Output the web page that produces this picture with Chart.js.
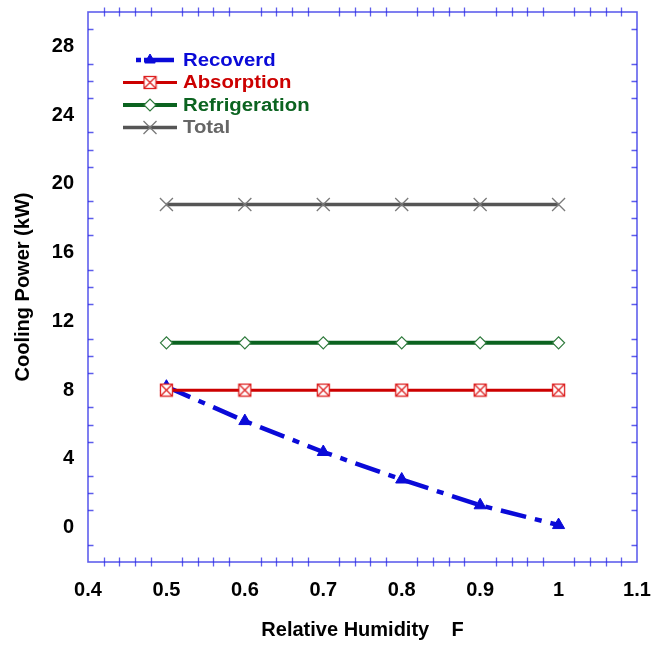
<!DOCTYPE html>
<html>
<head>
<meta charset="utf-8">
<script src="https://cdn.jsdelivr.net/npm/chart.js@4.4.1/dist/chart.umd.min.js"></script>
<style>
html,body{margin:0;padding:0;background:#fff;}
#wrap{width:651px;height:646px;}
</style>
</head>
<body>
<div id="wrap"><canvas id="c" width="651" height="646"></canvas></div>
<script>
// ---- data ----
const humidity = [0.5, 0.6, 0.7, 0.8, 0.9, 1.0];
const recoverd = [8.2, 6.2, 4.4, 2.8, 1.3, 0.15];
const absorption = [8, 8, 8, 8, 8, 8];
const refrigeration = [10.75, 10.75, 10.75, 10.75, 10.75, 10.75];
const total = [18.8, 18.8, 18.8, 18.8, 18.8, 18.8];
const seriesNames = ['Recoverd', 'Absorption', 'Refrigeration', 'Total'];
const xRange = [0.4, 1.1];
const yRange = [-2, 30];
const xLabelTicks = [0.4, 0.5, 0.6, 0.7, 0.8, 0.9, 1, 1.1];
const yLabelTicks = [0, 4, 8, 12, 16, 20, 24, 28];

const FONT = '"Liberation Sans", Arial, Helvetica, sans-serif';
const AXIS_COLOR = 'rgba(40,40,230,0.75)';

// boxed X marker image
function boxedX(size, color) {
  const c = document.createElement('canvas');
  c.width = size + 2; c.height = size + 2;
  const g = c.getContext('2d');
  g.fillStyle = '#fff';
  g.fillRect(1, 1, size, size);
  g.strokeStyle = color; g.lineWidth = 1.3;
  g.strokeRect(1.5, 1.5, size - 1, size - 1);
  g.beginPath();
  g.moveTo(1.5, 1.5); g.lineTo(size + 0.5, size + 0.5);
  g.moveTo(size + 0.5, 1.5); g.lineTo(1.5, size + 0.5);
  g.stroke();
  return c;
}
const boxImg = boxedX(13, '#dd2020');

function pts(arr) { return humidity.map((x, i) => ({x: x, y: arr[i]})); }

const datasets = [
  {label: seriesNames[0], data: pts(recoverd), borderColor: '#0a0ad8', backgroundColor: '#0a0ad8',
   borderWidth: 4.5, borderDash: [26, 9, 7, 9], pointStyle: 'triangle', pointRadius: 7,
   pointBorderWidth: 1, pointBorderColor: '#0a0ad8', pointBackgroundColor: '#0a0ad8', order: 10, tension: 0},
  {label: seriesNames[1], data: pts(absorption), borderColor: '#cc0000', backgroundColor: '#cc0000',
   borderWidth: 3, pointStyle: boxImg, pointRadius: 7, pointBorderColor: '#dd2020',
   pointBackgroundColor: '#ffffff', order: 3},
  {label: seriesNames[2], data: pts(refrigeration), borderColor: '#0b6320', backgroundColor: '#ffffff',
   borderWidth: 4, pointStyle: 'rectRot', pointRadius: 6, pointBorderWidth: 1.2,
   pointBorderColor: '#2e7a3c', pointBackgroundColor: '#ffffff', order: 2},
  {label: seriesNames[3], data: pts(total), borderColor: '#555555', backgroundColor: '#777777',
   borderWidth: 3.5, pointStyle: 'crossRot', pointRadius: 9.2, pointBorderWidth: 1.3,
   pointBorderColor: '#7a7a7a', pointBackgroundColor: '#7a7a7a', order: 1}
];

// frame + minor ticks + legend plugin
const framePlugin = {
  id: 'frame',
  afterDraw(chart) {
    const ctx = chart.ctx;
    const xs = chart.scales.x, ys = chart.scales.y;
    const a = chart.chartArea;
    ctx.save();
    ctx.strokeStyle = AXIS_COLOR;
    ctx.lineWidth = 1.6;
    ctx.strokeRect(a.left, a.top, a.right - a.left, a.bottom - a.top);
    ctx.lineWidth = 1.3;
    ctx.beginPath();
    // x minor ticks (cross top & bottom lines)
    for (let i = 1; i < 35; i++) {
      if (i % 5 === 0) continue;
      const v = xRange[0] + i * 0.02;
      const px = Math.round(xs.getPixelForValue(v)) + 0.5;
      ctx.moveTo(px, a.top - 4.5); ctx.lineTo(px, a.top + 4.5);
      ctx.moveTo(px, a.bottom - 4.5); ctx.lineTo(px, a.bottom + 4.5);
    }
    // y minor ticks (inward, left & right)
    for (let v = yRange[0] + 1; v < yRange[1]; v++) {
      if (v % 4 === 0) continue;
      const py = Math.round(ys.getPixelForValue(v)) + 0.5;
      ctx.moveTo(a.left, py); ctx.lineTo(a.left + 5.5, py);
      ctx.moveTo(a.right, py); ctx.lineTo(a.right - 5.5, py);
    }
    ctx.stroke();

    // legend
    const rowY = [60, 82.5, 105, 127.5];
    const x0 = 123, x1 = 177, mx = 150, tx = 183;
    chart.data.datasets.forEach((ds, i) => {
      const y = rowY[i];
      ctx.save();
      ctx.strokeStyle = ds.borderColor;
      ctx.lineWidth = ds.borderWidth;
      ctx.beginPath();
      if (i === 0) {
        ctx.moveTo(136, y); ctx.lineTo(141, y);
        ctx.moveTo(144, y); ctx.lineTo(174, y);
      } else {
        ctx.moveTo(x0, y); ctx.lineTo(x1, y);
      }
      ctx.stroke();
      ctx.fillStyle = ds.pointBackgroundColor;
      ctx.strokeStyle = ds.pointBorderColor;
      ctx.lineWidth = ds.pointBorderWidth || 1;
      Chart.helpers.drawPoint(ctx, {
        pointStyle: ds.pointStyle,
        radius: i === 0 ? 6 : ds.pointRadius,
        borderWidth: ds.pointBorderWidth || 1,
        rotation: 0
      }, mx, y);
      ctx.restore();
      ctx.save();
      ctx.fillStyle = i === 3 ? '#666666' : ds.borderColor;
      ctx.font = 'bold 18px ' + FONT;
      ctx.textBaseline = 'middle';
      ctx.textAlign = 'left';
      ctx.translate(tx, y + 1);
      ctx.scale(1.13, 1);
      ctx.fillText(ds.label, 0, 0);
      ctx.restore();
    });
    ctx.restore();
  }
};

const chart = new Chart(document.getElementById('c'), {
  type: 'line',
  data: {datasets: datasets},
  options: {
    responsive: false,
    animation: false,
    events: [],
    layout: {autoPadding: false, padding: {top: 12, right: 14, bottom: 0, left: 0}},
    plugins: {legend: {display: false}, tooltip: {enabled: false}},
    scales: {
      x: {
        type: 'linear', min: xRange[0], max: xRange[1],
        grid: {display: false, drawTicks: false}, border: {display: false},
        afterBuildTicks: (s) => { s.ticks = xLabelTicks.map(v => ({value: v})); },
        ticks: {color: '#000', padding: 16, maxRotation: 0, autoSkip: false,
                font: {family: FONT, size: 20, weight: 'bold'},
                callback: (v) => String(v)},
        title: {display: true, text: 'Relative Humidity    F', color: '#000',
                font: {family: FONT, size: 20, weight: 'bold'}, padding: {top: 0, bottom: 4}},
        afterFit: (s) => { s.height = 84; s.paddingLeft = 0; s.paddingRight = 0; }
      },
      y: {
        type: 'linear', min: yRange[0], max: yRange[1],
        grid: {display: false, drawTicks: false}, border: {display: false},
        afterBuildTicks: (s) => { s.ticks = yLabelTicks.map(v => ({value: v})); },
        ticks: {color: '#000', padding: 14, autoSkip: false,
                font: {family: FONT, size: 20, weight: 'bold'},
                callback: (v) => String(v)},
        title: {display: true, text: 'Cooling Power (kW)', color: '#000',
                font: {family: FONT, size: 20, weight: 'bold'}, padding: {top: 11, bottom: 0}},
        afterFit: (s) => { s.width = 88; s.paddingTop = 0; s.paddingBottom = 0; }
      }
    }
  },
  plugins: [framePlugin]
});
</script>
</body>
</html>
